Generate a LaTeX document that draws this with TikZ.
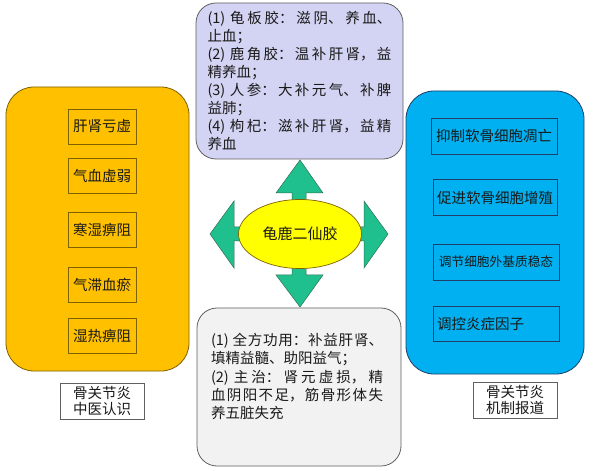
\documentclass[tikz,border=0pt]{standalone}
\usepackage{fontspec}
\setmainfont{Noto Sans CJK SC}
\usetikzlibrary{shapes.geometric}
\XeTeXlinebreaklocale "zh"
\XeTeXlinebreakskip=0pt plus 3pt
\definecolor{Amber}{HTML}{FFC000}
\definecolor{AmberEdge}{HTML}{7F6000}
\definecolor{Sky}{HTML}{00B0F0}
\definecolor{SkyEdge}{HTML}{1F3F66}
\definecolor{Lilac}{HTML}{D3D3F3}
\definecolor{Mist}{HTML}{F2F2F2}
\definecolor{EdgeGray}{HTML}{606060}
\definecolor{Jade}{HTML}{20C08E}
\definecolor{JadeEdge}{HTML}{2E6E50}
\definecolor{Lemon}{HTML}{FFFF00}
\definecolor{TextInk}{HTML}{1A1A1A}

\begin{document}
\begin{tikzpicture}[x=1bp,y=-1bp,every node/.style={text=TextInk},
  panel/.style={rounded corners=28bp,line width=0.8bp},
  note/.style={rounded corners=20bp,line width=0.8bp,draw=EdgeGray},
  item/.style={draw=AmberEdge,line width=0.7bp,minimum width=68bp,minimum height=35bp,font=\fontsize{14.5bp}{16bp}\selectfont,inner sep=1bp},
  fact/.style={draw=SkyEdge,line width=0.7bp,minimum height=36bp,font=\fontsize{14.5bp}{16bp}\selectfont,inner sep=1bp},
  tag/.style={draw=EdgeGray,fill=white,line width=0.6bp,minimum width=84bp,minimum height=36bp,align=center,font=\fontsize{14.5bp}{16bp}\selectfont,inner sep=1bp}]
\useasboundingbox (0,0) rectangle (595,471);
\fill[white] (0,0) rectangle (595,471);

\node[panel,draw=AmberEdge,fill=Amber,minimum width=183bp,minimum height=284bp] (tcm) at (97.5,229) {};
\node[panel,draw=SkyEdge,fill=Sky,minimum width=178bp,minimum height=283bp] (mech) at (495,232.5) {};

\node[note,fill=Lilac,minimum width=207bp,minimum height=156bp,text width=184bp,align=justify,inner sep=0bp,font=\fontsize{14.5bp}{18bp}\selectfont] (herbs) at (299.5,81) {(1) 龟板胶：滋阴、养血、\linebreak 止血；\\(2) 鹿角胶：温补肝肾，益\linebreak 精养血；\\(3) 人参：大补元气、补脾\linebreak 益肺；\\(4) 枸杞：滋补肝肾，益精\linebreak 养血};
\node[note,fill=Mist,minimum width=204bp,minimum height=158bp] (usage) at (299,387) {};
\node[text width=172bp,align=justify,inner sep=0bp,font=\fontsize{14.5bp}{18.2bp}\selectfont] (usagetext) at (297,376.5) {(1) 全方功用：补益肝肾、\linebreak 填精益髓、助阳益气；\\(2) 主治：肾元虚损，精\linebreak 血阴阳不足，筋骨形体失\linebreak 养五脏失充};

\fill[Jade,draw=JadeEdge,line width=0.5bp] (300,160) -- (323,193) -- (306,193) -- (306,227) -- (364,227) -- (364,201) -- (388,234) -- (364,268) -- (364,241) -- (306,241) -- (306,275) -- (323,275) -- (300,307) -- (276,275) -- (292,275) -- (292,241) -- (234,241) -- (234,268) -- (210,234) -- (234,201) -- (234,227) -- (292,227) -- (292,193) -- (276,193) -- cycle;
\node[ellipse,draw=AmberEdge,fill=Lemon,line width=0.7bp,minimum width=123bp,minimum height=69bp,inner sep=0bp,font=\fontsize{15bp}{16bp}\selectfont] (formula) at (300,234) {龟鹿二仙胶};

\node[item] (t1) at (102,126.5) {肝肾亏虚};
\node[item] (t2) at (102,175.5) {气血虚弱};
\node[item] (t3) at (102,229.5) {寒湿痹阻};
\node[item] (t4) at (102,284.5) {气滞血瘀};
\node[item] (t5) at (102,336) {湿热痹阻};

\node[fact,minimum width=126bp] (m1) at (494,136) {抑制软骨细胞凋亡};
\node[fact,minimum width=124bp] (m2) at (495,197.5) {促进软骨细胞增殖};
\node[fact,minimum width=126bp,font=\fontsize{12.7bp}{14bp}\selectfont] (m3) at (496,262) {调节细胞外基质稳态};
\node[fact,minimum width=126bp,minimum height=35bp] (m4) at (496,323.5) {};
\node[anchor=west,inner sep=0bp,font=\fontsize{14.5bp}{16bp}\selectfont] (m4text) at (437,323.5) {调控炎症因子};

\node[tag] (tcmtag) at (102,401) {骨关节炎\\中医认识};
\node[tag] (mechtag) at (515,400.5) {骨关节炎\\机制报道};

\end{tikzpicture}
\end{document}
